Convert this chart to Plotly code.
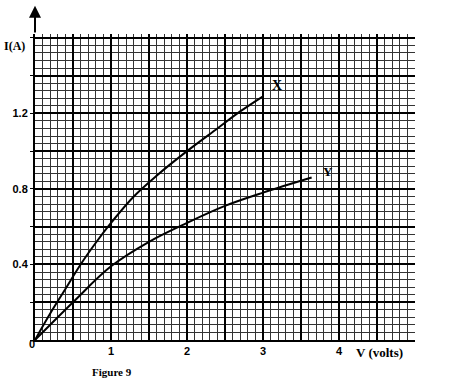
import plotly.graph_objects as go

# Data
x_V = [0, 0.2, 0.4, 0.6, 0.8, 1.0, 1.3, 1.6, 2.0, 2.4, 2.7, 3.0]
x_I = [0, 0.14, 0.27, 0.40, 0.515, 0.62, 0.76, 0.87, 1.00, 1.12, 1.21, 1.29]
y_V = [0, 0.5, 1.0, 1.5, 2.0, 2.5, 3.0, 3.64]
y_I = [0, 0.20, 0.39, 0.52, 0.62, 0.71, 0.78, 0.86]

x_ticks = [0, 0.5, 1, 1.5, 2, 2.5, 3, 3.5, 4, 4.5, 5]
x_ticktext = ["", "", "<b>1</b>", "", "<b>2</b>", "", "<b>3</b>", "", "<b>4</b>", "", ""]
y_ticks = [0, 0.2, 0.4, 0.6, 0.8, 1.0, 1.2, 1.4, 1.6]
y_ticktext = ["", "", "<b>0.4</b>", "", "<b>0.8</b>", "", "<b>1.2</b>", "", ""]

fig = go.Figure()
fig.add_trace(go.Scatter(x=x_V, y=x_I, mode="lines", line=dict(color="black", width=2, shape="spline"),
                         hoverinfo="skip", showlegend=False))
fig.add_trace(go.Scatter(x=y_V, y=y_I, mode="lines", line=dict(color="black", width=2, shape="spline"),
                         hoverinfo="skip", showlegend=False))

tickfont = dict(family="Liberation Sans", size=11, color="black")
fig.update_xaxes(range=[0, 5], tickvals=x_ticks, ticktext=x_ticktext, showgrid=True,
                 gridcolor="black", gridwidth=1.6, zeroline=False, showline=True, linecolor="black",
                 linewidth=2, ticks="", tickfont=tickfont,
                 minor=dict(dtick=0.1, tick0=0, showgrid=True, gridcolor="#333", gridwidth=1))
fig.update_yaxes(range=[0, 1.62], tickvals=y_ticks, ticktext=y_ticktext, showgrid=True,
                 gridcolor="black", gridwidth=1.6, zeroline=False, showline=True, linecolor="black",
                 linewidth=2, ticks="outside", ticklen=3, tickcolor="black", tickfont=tickfont,
                 minor=dict(dtick=0.04, tick0=0, showgrid=True, gridcolor="#333", gridwidth=1))

serif = "Liberation Serif"
anns = [
    dict(x=3.18, y=1.35, xref="x", yref="y", text="<b>X</b>", showarrow=False,
         font=dict(family=serif, size=14, color="black")),
    dict(x=3.86, y=0.89, xref="x", yref="y", text="<b>Y</b>", showarrow=False,
         font=dict(family=serif, size=13, color="black")),
    dict(x=0, y=1.77, xref="x", yref="y", ax=0, ay=1.62, axref="x", ayref="y", text="",
         showarrow=True, arrowhead=2, arrowsize=1.2, arrowwidth=2, arrowcolor="black"),
    dict(x=-0.02, y=0.99, xref="paper", yref="paper", xanchor="right", text="<b>I(A)</b>",
         showarrow=False, font=dict(family=serif, size=12, color="black")),
    dict(x=-0.021, y=-0.039, xref="paper", yref="paper", text="<b>0</b>", showarrow=False,
         font=tickfont),
    dict(x=0.974, y=-0.072, xref="paper", yref="paper", text="<b>V (volts)</b>", showarrow=False,
         font=dict(family=serif, size=13, color="black")),
    dict(x=0.145, y=-0.13, xref="paper", yref="paper", text="<b>Figure 9</b>", showarrow=False,
         font=dict(family=serif, size=11, color="black")),
]
fig.update_layout(annotations=anns)

fig.add_shape(type="line", xref="x", yref="y", x0=5, x1=5.3, y0=0, y1=0,
              line=dict(color="black", width=2))

fig.update_layout(width=453, height=387, margin=dict(l=35, r=38, t=34, b=47),
                  plot_bgcolor="white", paper_bgcolor="white",
                  font=dict(family="Liberation Sans", color="black"))
fig.write_html("out.html")
